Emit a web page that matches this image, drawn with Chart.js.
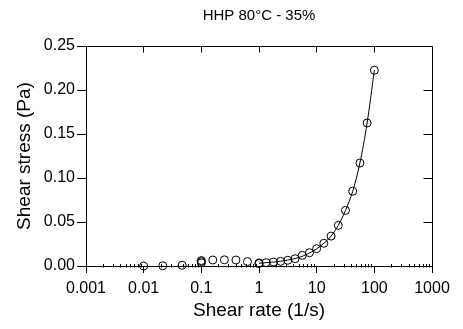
<!DOCTYPE html>
<html>
<head>
<meta charset="utf-8">
<script src="https://cdn.jsdelivr.net/npm/chart.js@4/dist/chart.umd.min.js"></script>
<style>
  html, body { margin: 0; padding: 0; background: #fff; }
  #wrap { width: 463px; height: 329px; }
</style>
</head>
<body>
<div id="wrap"><canvas id="c" width="463" height="329"></canvas></div>
<script>
// ---- data ----
const chartTitle = 'HHP 80°C - 35%';
const xTitle = 'Shear rate (1/s)';
const yTitle = 'Shear stress (Pa)';

const shearRate = [0.01, 0.0215, 0.0464, 0.1, 0.1, 0.1, 0.158, 0.251, 0.398, 0.631, 1.0, 1.0,
  1.33, 1.78, 2.37, 3.16, 4.22, 5.62, 7.5, 10, 13.3, 17.8, 23.7, 31.6, 42.2, 56.2, 75, 100];
const shearStress = [0.0000, 0.0003, 0.0008, 0.0035, 0.0050, 0.0062, 0.0068, 0.0070, 0.0068, 0.0050, 0.0035, 0.0028,
  0.0038, 0.0045, 0.0053, 0.0065, 0.0083, 0.0121, 0.0151, 0.0197, 0.0258, 0.0340, 0.0462, 0.0632, 0.0850, 0.1170, 0.1625, 0.2225];

// smooth curve through the upper branch
const curveRate = [1.0, 1.33, 1.78, 2.37, 3.16, 4.22, 5.62, 7.5, 10, 13.3, 17.8, 23.7, 31.6, 42.2, 56.2, 75, 100];
const curveStress = [0.0031, 0.0038, 0.0045, 0.0054, 0.0066, 0.0084, 0.0110, 0.0148, 0.0195, 0.0258, 0.0340, 0.0462, 0.0632, 0.0850, 0.1170, 0.1625, 0.2225];

const xTickValues = [0.001, 0.01, 0.1, 1, 10, 100, 1000];
const xTickLabels = ['0.001', '0.01', '0.1', '1', '10', '100', '1000'];
const yTickValues = [0, 0.05, 0.10, 0.15, 0.20, 0.25];
const yTickLabels = ['0.00', '0.05', '0.10', '0.15', '0.20', '0.25'];
const xMinorMultipliers = [2, 3, 4, 5, 6, 7, 8, 9];

// ---- chart ----
Chart.defaults.font.family = '"Liberation Sans", Arial, Helvetica, sans-serif';
Chart.defaults.color = '#000';

function align(p) { return Math.round(p - 0.5) + 0.5; }

const framePlugin = {
  id: 'frame',
  afterDraw(chart) {
    const { ctx, chartArea: a } = chart;
    const xs = chart.scales.x, ys = chart.scales.y;
    const top = align(a.top), right = align(a.right), bottom = align(a.bottom);
    ctx.save();
    ctx.strokeStyle = '#000';
    ctx.lineWidth = 1;
    ctx.beginPath();
    // top and right frame
    ctx.moveTo(align(a.left), top); ctx.lineTo(right, top);
    ctx.moveTo(right, top); ctx.lineTo(right, bottom);
    // inward ticks on top
    xs.ticks.forEach(t => {
      const px = align(xs.getPixelForValue(t.value));
      ctx.moveTo(px, top); ctx.lineTo(px, top + 6);
    });
    // inward ticks on right
    ys.ticks.forEach(t => {
      const py = align(ys.getPixelForValue(t.value));
      ctx.moveTo(right, py); ctx.lineTo(right - 9, py);
    });
    ctx.stroke();
    // minor ticks on bottom axis
    ctx.beginPath();
    xTickValues.slice(0, -1).forEach(d => {
      xMinorMultipliers.forEach(m => {
        const px = align(xs.getPixelForValue(d * m));
        ctx.moveTo(px, bottom + 1); ctx.lineTo(px, bottom - 2.5);
      });
    });
    ctx.stroke();
    ctx.restore();
  }
};

new Chart(document.getElementById('c'), {
  data: {
    datasets: [
      {
        type: 'line',
        data: curveRate.map((x, i) => ({ x, y: curveStress[i] })),
        borderColor: '#000',
        borderWidth: 1,
        pointRadius: 0,
        fill: false,
        cubicInterpolationMode: 'monotone',
        clip: false
      },
      {
        type: 'scatter',
        data: shearRate.map((x, i) => ({ x, y: shearStress[i] })),
        borderColor: '#000',
        backgroundColor: 'rgba(0,0,0,0)',
        borderWidth: 1,
        pointRadius: 4,
        pointStyle: 'circle',
        showLine: false,
        clip: false
      }
    ]
  },
  options: {
    responsive: false,
    animation: false,
    devicePixelRatio: 1,
    layout: { padding: { left: 0, right: 31, top: 0, bottom: 0 } },
    plugins: {
      legend: { display: false },
      tooltip: { enabled: false },
      title: {
        display: true,
        text: chartTitle,
        fullSize: false,
        color: '#000',
        font: { size: 15, weight: 'normal' },
        padding: { top: 6.5, bottom: 21.5 }
      }
    },
    scales: {
      x: {
        type: 'logarithmic',
        position: 'bottom',
        min: 0.001,
        max: 1000,
        afterBuildTicks: s => { s.ticks = xTickValues.map(v => ({ value: v })); },
        afterFit: s => { s.height = 63; },
        border: { display: true, color: '#000', width: 1 },
        grid: { drawOnChartArea: false, drawTicks: true, tickLength: 7, color: '#000', tickColor: '#000' },
        ticks: {
          autoSkip: false,
          maxRotation: 0,
          padding: 6,
          font: { size: 16 },
          color: '#000',
          callback: (v) => {
            const i = xTickValues.findIndex(t => Math.abs(t - v) / t < 1e-6);
            return i >= 0 ? xTickLabels[i] : '';
          }
        },
        title: {
          display: true,
          text: xTitle,
          color: '#000',
          font: { size: 19 },
          padding: { top: 0, bottom: 6.6 }
        }
      },
      y: {
        type: 'linear',
        position: 'left',
        min: 0,
        max: 0.25,
        afterBuildTicks: s => { s.ticks = yTickValues.map(v => ({ value: v })); },
        afterFit: s => { s.width = 86; },
        border: { display: true, color: '#000', width: 1 },
        grid: { drawOnChartArea: false, drawTicks: true, tickLength: 9, color: '#000', tickColor: '#000' },
        ticks: {
          padding: 2,
          font: { size: 16 },
          color: '#000',
          callback: (v) => {
            const i = yTickValues.findIndex(t => Math.abs(t - v) < 1e-9);
            return i >= 0 ? yTickLabels[i] : '';
          }
        },
        title: {
          display: true,
          text: yTitle,
          color: '#000',
          font: { size: 19 },
          padding: { top: 13.6, bottom: 0 }
        }
      }
    }
  },
  plugins: [framePlugin]
});
</script>
</body>
</html>
